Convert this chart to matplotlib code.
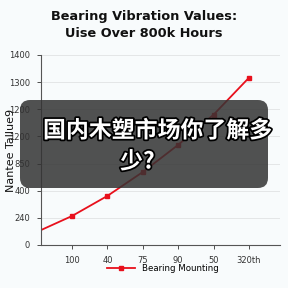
import numpy as np
import matplotlib.pyplot as plt
import matplotlib.patheffects as pe
from matplotlib.patches import FancyBboxPatch

# data (y in tick-slot units, ticks evenly spaced)
x_labels = ['100', '40', '75', '90', '50', '320th']
x_pos = [0.12, 1, 2, 3, 4, 5, 6]
y_pos = [0.55, 1.07, 1.81, 2.69, 3.69, 4.80, 6.16]
y_labels = ['0', '240', '400', '850', '1200', '1200', '1300', '1400']

bg = '#f8fbfc'
fig = plt.figure(figsize=(2.88, 2.88), dpi=100, facecolor=bg)
ax = fig.add_axes([41/288, 43/288, 239/288, 190/288], facecolor=bg)

ax.plot(x_pos, y_pos, color='#e8101c', lw=1.3, marker='s', ms=3.5,
        markevery=list(range(1, len(x_pos))), label='Bearing Mounting')

ax.set_xlim(0.12, 6.88)
ax.set_ylim(0, 7)
ax.set_xticks(range(1, 7))
ax.set_xticklabels(x_labels)
ax.set_yticks(range(len(y_labels)))
ax.set_yticklabels(y_labels)
ax.tick_params(labelsize=6, colors='#333333', length=3, width=0.6, pad=5)
ax.grid(axis='y', color='#e4e6e7', lw=0.7)
ax.set_axisbelow(True)
for s in ['top', 'right']:
    ax.spines[s].set_visible(False)
for s in ['left', 'bottom']:
    ax.spines[s].set_color('#555555')
    ax.spines[s].set_linewidth(0.8)

ax.set_ylabel('Nantee Tallue9', fontsize=8, color='#111111')
ax.yaxis.set_label_coords(-0.105, 0.5)
fig.text(0.5, 1 - 25/288, 'Bearing Vibration Values:\nUise Over 800k Hours',
         ha='center', va='center', fontsize=9.3, fontweight='bold',
         linespacing=1.35, color='#111111')
ax.legend(loc='center', bbox_to_anchor=(0.51, -0.125),
          frameon=False, fontsize=6.2, handlelength=3.2)

# overlay caption box
box = FancyBboxPatch((20/288, 1 - 188/288), 248/288, 88/288,
                     boxstyle='round,pad=0,rounding_size=0.035',
                     transform=fig.transFigure, facecolor='#333333',
                     alpha=0.85, edgecolor='none', zorder=5)
fig.patches.append(box)
fx = [pe.withStroke(linewidth=2.5, foreground='black')]
fig.text(43/288, 1 - 131/288, '国内木塑市场你了解多', fontsize=16.5,
         fontweight='bold', color='white', va='center', ha='left',
         family=['Noto Sans CJK SC', 'DejaVu Sans'], path_effects=fx, zorder=6)
fig.text(120/288, 1 - 162/288, '少?', fontsize=16.5,
         fontweight='bold', color='white', va='center', ha='left',
         family=['Noto Sans CJK SC', 'DejaVu Sans'], path_effects=fx, zorder=6)

fig.savefig('out.png', dpi=100, facecolor=bg)
